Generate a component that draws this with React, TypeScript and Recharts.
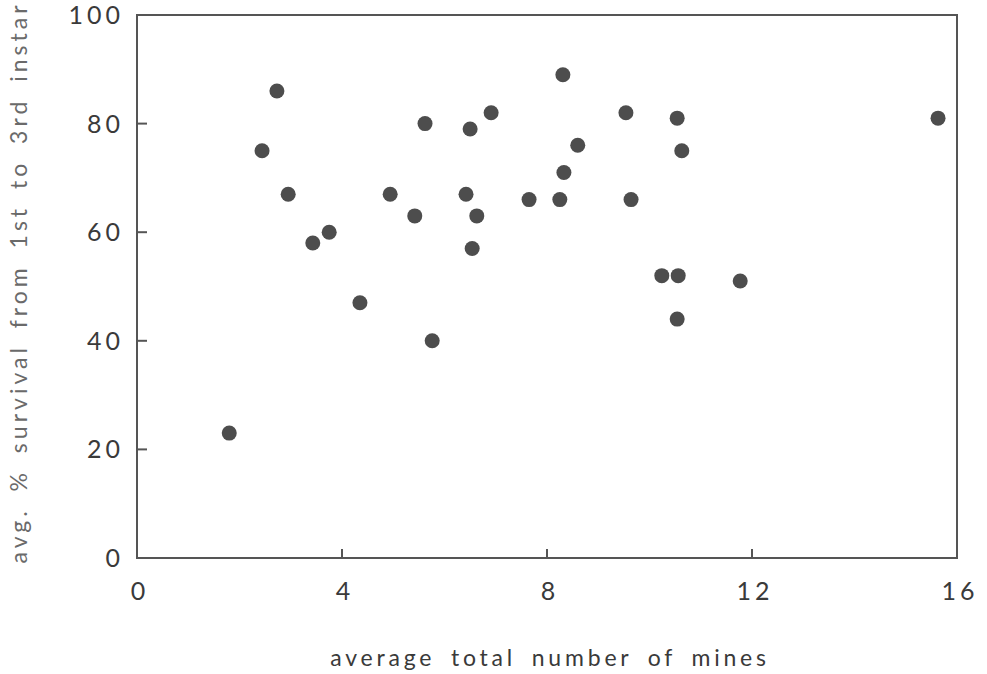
import React from 'react';
import {
  ScatterChart,
  Scatter,
  XAxis,
  YAxis,
  ReferenceArea,
  Label,
} from 'recharts';

const mines = [
  1.8, 2.73, 2.44, 2.95, 3.43, 3.75, 4.35, 4.94, 5.42, 5.62, 5.76, 6.42, 6.5, 6.54, 6.63,
  6.91, 7.65, 8.25, 8.33, 8.31, 8.6, 9.54, 9.64, 10.24, 10.56, 10.54, 10.54, 10.63, 11.77,
  15.63,
];
const survival = [
  23, 86, 75, 67, 58, 60, 47, 67, 63, 80, 40, 67, 79, 57, 63, 82, 66, 66, 71, 89, 76, 82,
  66, 52, 52, 44, 81, 75, 51, 81,
];
const xTicks = [0, 4, 8, 12, 16];
const yTicks = [0, 20, 40, 60, 80, 100];

const points = mines.map((x, i) => ({ x, y: survival[i] }));

const FONT = 'Lato, "DejaVu Sans", sans-serif';
const INK = '#3a3a3a';
const LINE = '#555';

function XTick(props: any) {
  const { x, y, payload } = props;
  const inner = payload.value !== 0 && payload.value !== 16;
  return (
    <g>
      {inner && <line x1={x} y1={y} x2={x} y2={y - 9} stroke={LINE} strokeWidth={2} />}
      <text
        x={x + 3}
        y={y + 42}
        textAnchor="middle"
        fill={INK}
        fontSize={25}
        fontFamily={FONT}
        letterSpacing={4}
      >
        {payload.value}
      </text>
    </g>
  );
}

function YTick(props: any) {
  const { x, y, payload } = props;
  const inner = payload.value !== 0 && payload.value !== 100;
  return (
    <g>
      {inner && <line x1={x} y1={y} x2={x + 10} y2={y} stroke={LINE} strokeWidth={2} />}
      <text
        x={x - 13}
        y={y + 9}
        textAnchor="end"
        fill={INK}
        fontSize={25}
        fontFamily={FONT}
        letterSpacing={4}
      >
        {payload.value}
      </text>
    </g>
  );
}

const Dot = (props: any) => <circle cx={props.cx} cy={props.cy} r={7.5} fill="#4d4d4d" />;

export default function App() {
  return (
    <div style={{ position: 'absolute', left: 0, top: 0, background: '#fff' }}>
      <ScatterChart
        width={987}
        height={674}
        margin={{ top: 15, right: 30, bottom: 0, left: 0 }}
      >
        <XAxis
          type="number"
          dataKey="x"
          domain={[0, 16]}
          ticks={xTicks}
          tickSize={0}
          tickMargin={0}
          tickLine={false}
          axisLine={{ stroke: LINE, strokeWidth: 2 }}
          tick={<XTick />}
          height={116}
        >
          <Label
            content={({ viewBox }: any) => (
              <text
                x={viewBox.x + viewBox.width / 2 + 3}
                y={viewBox.y + 108}
                textAnchor="middle"
                fill={INK}
                fontSize={23}
                fontFamily={FONT}
                letterSpacing={3.8}
                wordSpacing={6}
              >
                average total number of mines
              </text>
            )}
          />
        </XAxis>
        <YAxis
          type="number"
          dataKey="y"
          domain={[0, 100]}
          ticks={yTicks}
          tickSize={0}
          tickMargin={0}
          tickLine={false}
          axisLine={{ stroke: LINE, strokeWidth: 2 }}
          tick={<YTick />}
          width={137}
        >
          <Label
            content={({ viewBox }: any) => {
              const cy = viewBox.y + viewBox.height / 2 - 4;
              return (
                <text
                  x={27}
                  y={cy}
                  transform={`rotate(-90, 27, ${cy})`}
                  textAnchor="middle"
                  fill="#6a6a6a"
                  fontSize={23}
                  fontFamily={FONT}
                  letterSpacing={4}
                  wordSpacing={6}
                >
                  avg. % survival from 1st to 3rd instar
                </text>
              );
            }}
          />
        </YAxis>
        <ReferenceArea
          x1={0}
          x2={16}
          y1={0}
          y2={100}
          fill="none"
          stroke={LINE}
          strokeWidth={2}
        />
        <Scatter data={points} shape={<Dot />} isAnimationActive={false} />
      </ScatterChart>
    </div>
  );
}
